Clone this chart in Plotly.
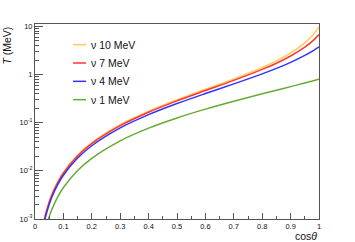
import plotly.graph_objects as go

# Data
cos_hi = [0.03, 0.035, 0.04, 0.05, 0.06, 0.08, 0.10, 0.15, 0.20, 0.30, 0.40, 0.50,
          0.60, 0.70, 0.80, 0.85, 0.90, 0.95, 0.98, 1.00]
t_10mev = [0.00083, 0.00113, 0.00148, 0.00232, 0.00334, 0.00596, 0.00934, 0.02125, 0.0384,
           0.0906, 0.173, 0.299, 0.494, 0.815, 1.407, 1.93, 2.81, 4.56, 6.80, 9.75]
t_7mev = [0.00080, 0.00109, 0.00142, 0.00222, 0.00321, 0.00571, 0.00896, 0.0204, 0.0368,
          0.0867, 0.165, 0.2835, 0.465, 0.757, 1.279, 1.72, 2.43, 3.71, 5.14, 6.75]
t_4mev = [0.00072, 0.00099, 0.00129, 0.00201, 0.00290, 0.00517, 0.0081, 0.0184, 0.0332,
          0.0778, 0.147, 0.250, 0.4035, 0.6405, 1.035, 1.344, 1.79, 2.50, 3.15, 3.76]
cos_lo = [0.04, 0.05, 0.06, 0.08, 0.10, 0.15, 0.20, 0.30, 0.40, 0.50,
          0.60, 0.70, 0.80, 0.85, 0.90, 0.95, 0.98, 1.00]
t_1mev = [0.00072, 0.00112, 0.00161, 0.00287, 0.0045, 0.0102, 0.0182, 0.0419, 0.0770, 0.1257,
          0.1913, 0.2793, 0.398, 0.473, 0.562, 0.668, 0.742, 0.797]

names = ["ν 10 MeV", "ν 7 MeV", "ν 4 MeV", "ν 1 MeV"]
colors = ["#FFCC55", "#FF3333", "#3333FF", "#66AA33"]
xs = [cos_hi, cos_hi, cos_hi, cos_lo]
ys = [t_10mev, t_7mev, t_4mev, t_1mev]

y_tickvals = [1e-3, 1e-2, 1e-1, 1, 10]
y_ticktext = ["10<sup>-3</sup>", "10<sup>-2</sup>", "10<sup>-1</sup>", "1", "10"]
y_minor = [m * 10 ** e for e in range(-3, 1) for m in range(2, 10)]

FONT = "Liberation Sans, Arial, Helvetica, sans-serif"

fig = go.Figure()
for name, col, x, y in zip(names, colors, xs, ys):
    fig.add_trace(go.Scatter(x=x, y=y, mode="lines", name=name,
                             line=dict(color=col, width=1.5, shape="spline", smoothing=0.8),
                             showlegend=False))

# Manual legend (ROOT style: short line + label)
leg_y = [0.894, 0.800, 0.706, 0.612]
for name, col, ly in zip(names, colors, leg_y):
    fig.add_shape(type="line", xref="paper", yref="paper",
                  x0=0.134, x1=0.180, y0=ly, y1=ly,
                  line=dict(color=col, width=1.5))
    fig.add_annotation(xref="paper", yref="paper", x=0.190, y=ly, text=name,
                       showarrow=False, xanchor="left", yanchor="middle",
                       font=dict(family=FONT, size=10.5, color="#111"))

fig.add_annotation(xref="paper", yref="paper", x=-0.100, y=0.995,
                   text="<i>T</i> (MeV)", textangle=-90, showarrow=False,
                   xanchor="center", yanchor="top",
                   font=dict(family=FONT, size=10.5, color="#111"))
fig.add_annotation(xref="paper", yref="paper", x=1.0, y=-0.085,
                   text="cos<i>θ</i>", showarrow=False,
                   xanchor="right", yanchor="middle",
                   font=dict(family=FONT, size=10.5, color="#111"))

fig.update_layout(
    width=355, height=242, autosize=False,
    margin=dict(l=35, r=36, t=24, b=23),
    paper_bgcolor="white", plot_bgcolor="white",
    font=dict(family=FONT, size=7.5, color="#111"),
    showlegend=False,
    xaxis=dict(range=[0, 1], tickmode="linear", tick0=0, dtick=0.1,
               ticks="inside", ticklen=6, tickwidth=1, tickcolor="#555",
               minor=dict(ticks="inside", ticklen=3, dtick=0.05, tickcolor="#555"),
               showline=True, linecolor="#555", linewidth=1, mirror=True,
               showgrid=False, zeroline=False,
               tickfont=dict(size=7.5)),
    yaxis=dict(type="log", range=[-3, 1.05],
               tickmode="array", tickvals=y_tickvals, ticktext=y_ticktext,
               ticks="inside", ticklen=8, tickwidth=1, tickcolor="#555",
               minor=dict(ticks="inside", ticklen=4, tickmode="array",
                          tickvals=y_minor, tickcolor="#555"),
               showline=True, linecolor="#555", linewidth=1, mirror=True,
               showgrid=False, zeroline=False,
               tickfont=dict(size=7.5)),
)

fig.write_html("out.html", config={"displayModeBar": False},
               post_script="document.body.style.margin='0px';document.body.style.overflow='hidden';")
